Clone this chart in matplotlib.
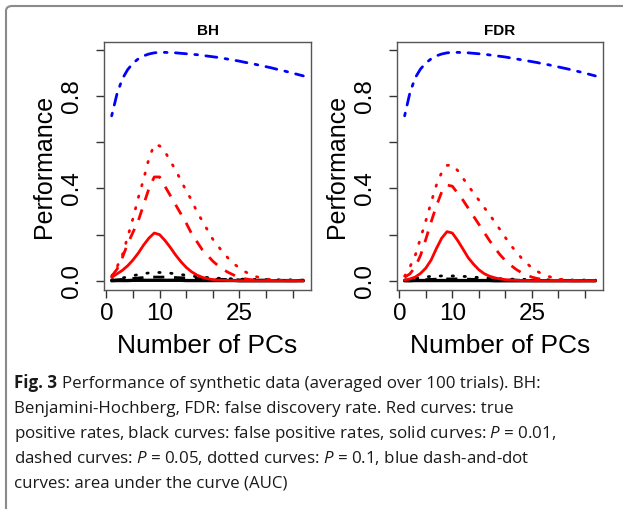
import numpy as np
import matplotlib.pyplot as plt
from matplotlib.patches import FancyBboxPatch

plt.rcParams['font.family'] = ['Liberation Sans', 'DejaVu Sans']
plt.rcParams['mathtext.fontset'] = 'custom'
plt.rcParams['mathtext.rm'] = 'Open Sans'
plt.rcParams['mathtext.it'] = 'Open Sans:italic'
plt.rcParams['mathtext.bf'] = 'Open Sans:bold'

# number of principal components
pcs = np.arange(1, 38)

# BH panel
bh_auc = [0.715, 0.81, 0.875, 0.915, 0.943, 0.962, 0.975, 0.983, 0.988, 0.99,
          0.99, 0.989, 0.988, 0.986, 0.984, 0.982, 0.98, 0.977, 0.974, 0.971,
          0.968, 0.964, 0.96, 0.956, 0.952, 0.947, 0.943, 0.938, 0.933, 0.928,
          0.923, 0.917, 0.912, 0.906, 0.9, 0.894, 0.888]
bh_tpr_01 = [0.015, 0.03, 0.045, 0.065, 0.09, 0.12, 0.155, 0.185, 0.207, 0.2,
             0.175, 0.145, 0.112, 0.083, 0.058, 0.039, 0.025, 0.015, 0.009, 0.005,
             0.003, 0.002, 0.001, 0.001, 0, 0, 0, 0, 0, 0,
             0, 0, 0, 0, 0, 0, 0]
bh_tpr_05 = [0.02, 0.05, 0.1, 0.16, 0.21, 0.26, 0.33, 0.4, 0.45, 0.45,
             0.41, 0.37, 0.33, 0.29, 0.25, 0.205, 0.17, 0.135, 0.11, 0.085,
             0.065, 0.048, 0.035, 0.024, 0.015, 0.009, 0.005, 0.003, 0.002, 0.001,
             0.001, 0, 0, 0, 0, 0, 0]
bh_tpr_10 = [0.02, 0.06, 0.11, 0.19, 0.27, 0.36, 0.44, 0.53, 0.59, 0.585,
             0.56, 0.52, 0.48, 0.435, 0.39, 0.35, 0.3, 0.26, 0.22, 0.18,
             0.15, 0.12, 0.095, 0.073, 0.055, 0.04, 0.028, 0.019, 0.012, 0.008,
             0.005, 0.003, 0.002, 0.001, 0.001, 0, 0]
bh_fpr_01 = [0, 0.001, 0.001, 0.001, 0.002, 0.002, 0.002, 0.002, 0.002, 0.002,
             0.002, 0.002, 0.002, 0.002, 0.001, 0.001, 0.001, 0.001, 0.001, 0.001,
             0.001, 0.001, 0.001, 0.001, 0, 0, 0, 0, 0, 0,
             0, 0, 0, 0, 0, 0, 0]
bh_fpr_05 = [0.002, 0.004, 0.006, 0.008, 0.01, 0.012, 0.014, 0.015, 0.016, 0.016,
             0.016, 0.015, 0.014, 0.013, 0.012, 0.011, 0.01, 0.009, 0.008, 0.007,
             0.006, 0.006, 0.005, 0.005, 0.004, 0.004, 0.003, 0.003, 0.003, 0.003,
             0.002, 0.002, 0.002, 0.002, 0.002, 0.002, 0.002]
bh_fpr_10 = [0.004, 0.008, 0.012, 0.017, 0.022, 0.027, 0.031, 0.034, 0.036, 0.036,
             0.035, 0.033, 0.03, 0.027, 0.024, 0.021, 0.018, 0.016, 0.014, 0.012,
             0.011, 0.01, 0.009, 0.008, 0.007, 0.007, 0.006, 0.006, 0.005, 0.005,
             0.005, 0.004, 0.004, 0.004, 0.004, 0.003, 0.003]

# FDR panel
fdr_auc = [0.715, 0.815, 0.88, 0.918, 0.944, 0.962, 0.975, 0.983, 0.988, 0.99,
           0.99, 0.989, 0.988, 0.986, 0.984, 0.982, 0.979, 0.976, 0.973, 0.97,
           0.966, 0.962, 0.958, 0.954, 0.95, 0.946, 0.941, 0.937, 0.932, 0.927,
           0.922, 0.917, 0.911, 0.906, 0.9, 0.894, 0.888]
fdr_tpr_01 = [0.003, 0.008, 0.016, 0.032, 0.055, 0.09, 0.14, 0.185, 0.213, 0.207,
              0.175, 0.138, 0.1, 0.072, 0.048, 0.031, 0.02, 0.013, 0.008, 0.005,
              0.003, 0.002, 0.001, 0.001, 0, 0, 0, 0, 0, 0,
              0, 0, 0, 0, 0, 0, 0]
fdr_tpr_05 = [0.015, 0.03, 0.06, 0.11, 0.18, 0.255, 0.325, 0.385, 0.415, 0.41,
              0.38, 0.35, 0.315, 0.28, 0.245, 0.21, 0.175, 0.143, 0.113, 0.088,
              0.068, 0.05, 0.036, 0.025, 0.016, 0.01, 0.006, 0.003, 0.002, 0.001,
              0, 0, 0, 0, 0, 0, 0]
fdr_tpr_10 = [0.02, 0.06, 0.11, 0.185, 0.26, 0.34, 0.415, 0.47, 0.5, 0.503,
              0.478, 0.445, 0.413, 0.38, 0.35, 0.318, 0.288, 0.255, 0.222, 0.188,
              0.155, 0.127, 0.1, 0.077, 0.056, 0.041, 0.029, 0.02, 0.013, 0.008,
              0.005, 0.003, 0.002, 0.001, 0, 0, 0]
fdr_fpr_01 = [0, 0, 0.001, 0.001, 0.001, 0.001, 0.001, 0.001, 0.001, 0.001,
              0.001, 0.001, 0.001, 0.001, 0.001, 0.001, 0.001, 0, 0, 0,
              0, 0, 0, 0, 0, 0, 0, 0, 0, 0,
              0, 0, 0, 0, 0, 0, 0]
fdr_fpr_05 = [0.001, 0.002, 0.003, 0.004, 0.005, 0.006, 0.007, 0.008, 0.008, 0.008,
              0.008, 0.007, 0.007, 0.006, 0.006, 0.005, 0.005, 0.004, 0.004, 0.003,
              0.003, 0.003, 0.002, 0.002, 0.002, 0.002, 0.002, 0.001, 0.001, 0.001,
              0.001, 0.001, 0.001, 0.001, 0.001, 0.001, 0.001]
fdr_fpr_10 = [0.003, 0.006, 0.01, 0.014, 0.017, 0.019, 0.02, 0.021, 0.021, 0.021,
              0.02, 0.019, 0.018, 0.016, 0.014, 0.013, 0.011, 0.01, 0.009, 0.008,
              0.007, 0.007, 0.006, 0.006, 0.005, 0.005, 0.005, 0.004, 0.004, 0.004,
              0.004, 0.003, 0.003, 0.003, 0.003, 0.003, 0.003]

y_ticks = [0.0, 0.2, 0.4, 0.6, 0.8, 1.0]
y_tick_labels = ['0.0', '', '0.4', '', '0.8', '']
x_ticks = [0, 5, 10, 15, 20, 25, 30, 35]
x_tick_labels = ['0', '', '10', '', '', '25', '', '']

caption_head = "Fig. 3"
caption_lines = [
    "Performance of synthetic data (averaged over 100 trials). BH:",
    "Benjamini-Hochberg, FDR: false discovery rate. Red curves: true",
    "positive rates, black curves: false positive rates, solid curves: $P$ = 0.01,",
    "dashed curves: $P$ = 0.05, dotted curves: $P$ = 0.1, blue dash-and-dot",
    "curves: area under the curve (AUC)",
]

DASHED = (0, (4, 3.5))
DOTTED = (0, (0.5, 3.8))
DOTDASH = (0, (1, 3, 4, 3))


def draw_panel(ax, title, auc, tpr01, tpr05, tpr10, fpr01, fpr05, fpr10):
    lw = 2.0
    ax.plot(pcs, auc, color='#0000ff', lw=lw, linestyle=DOTDASH, dash_capstyle='round')
    ax.plot(pcs, fpr10, color='black', lw=lw, linestyle=DOTTED, dash_capstyle='round')
    ax.plot(pcs, fpr05, color='black', lw=lw, linestyle=DASHED)
    ax.plot(pcs, fpr01, color='black', lw=lw + 0.4, solid_capstyle='round')
    ax.plot(pcs, tpr10, color='#ff0000', lw=lw, linestyle=DOTTED, dash_capstyle='round')
    ax.plot(pcs, tpr05, color='#ff0000', lw=lw, linestyle=DASHED)
    ax.plot(pcs, tpr01, color='#ff0000', lw=lw, solid_capstyle='round')

    ax.set_xlim(-0.44, 38.44)
    ax.set_ylim(-0.04, 1.035)
    ax.set_xticks(x_ticks)
    ax.set_xticklabels(x_tick_labels)
    ax.set_yticks(y_ticks)
    ax.set_yticklabels(y_tick_labels, rotation=90, va='center')
    ax.tick_params(axis='both', labelsize=17.5, length=6, width=1, color='#333333')
    ax.tick_params(axis='x', pad=3)
    ax.tick_params(axis='y', pad=9)
    for s in ax.spines.values():
        s.set_color('#555555')
        s.set_linewidth(1)
    ax.set_title(title, fontweight='bold', fontsize=11, pad=5)
    ax.set_xlabel('Number of PCs', fontsize=19, labelpad=7)
    ax.set_ylabel('Performance', fontsize=18, labelpad=4)


fig = plt.figure(figsize=(6.23, 5.09), dpi=100)

frame = FancyBboxPatch((6 / 623, -10 / 509), 640 / 623, 513 / 509,
                       boxstyle='round,pad=0,rounding_size=0.01',
                       transform=fig.transFigure, facecolor='none',
                       edgecolor='#8a8a8a', linewidth=1.5, clip_on=False)
fig.patches.append(frame)

ax1 = fig.add_axes([104 / 623, 1 - 290 / 509, 207 / 623, 248 / 509])
ax2 = fig.add_axes([397 / 623, 1 - 290 / 509, 206 / 623, 248 / 509])

draw_panel(ax1, 'BH', bh_auc, bh_tpr_01, bh_tpr_05, bh_tpr_10,
           bh_fpr_01, bh_fpr_05, bh_fpr_10)
draw_panel(ax2, 'FDR', fdr_auc, fdr_tpr_01, fdr_tpr_05, fdr_tpr_10,
           fdr_fpr_01, fdr_fpr_05, fdr_fpr_10)

# caption: bold figure number, then the rest of the first line right after it
head = fig.text(14 / 623, 1 - 388 / 509, caption_head, fontsize=12.2,
                family='Open Sans', weight='bold', va='baseline', ha='left',
                color='#1a1a1a')
ax1.annotate(caption_lines[0], xy=(1, 0), xycoords=head, xytext=(3.5, 0),
             textcoords='offset points', fontsize=12.2, family='Open Sans',
             va='bottom', ha='left', color='#1a1a1a', annotation_clip=False)
for i, line in enumerate(caption_lines[1:], start=1):
    fig.text(14 / 623, 1 - (388 + 25 * i) / 509, line, fontsize=12.2,
             family='Open Sans', va='baseline', ha='left', color='#1a1a1a')

fig.savefig('out.png', dpi=100)
